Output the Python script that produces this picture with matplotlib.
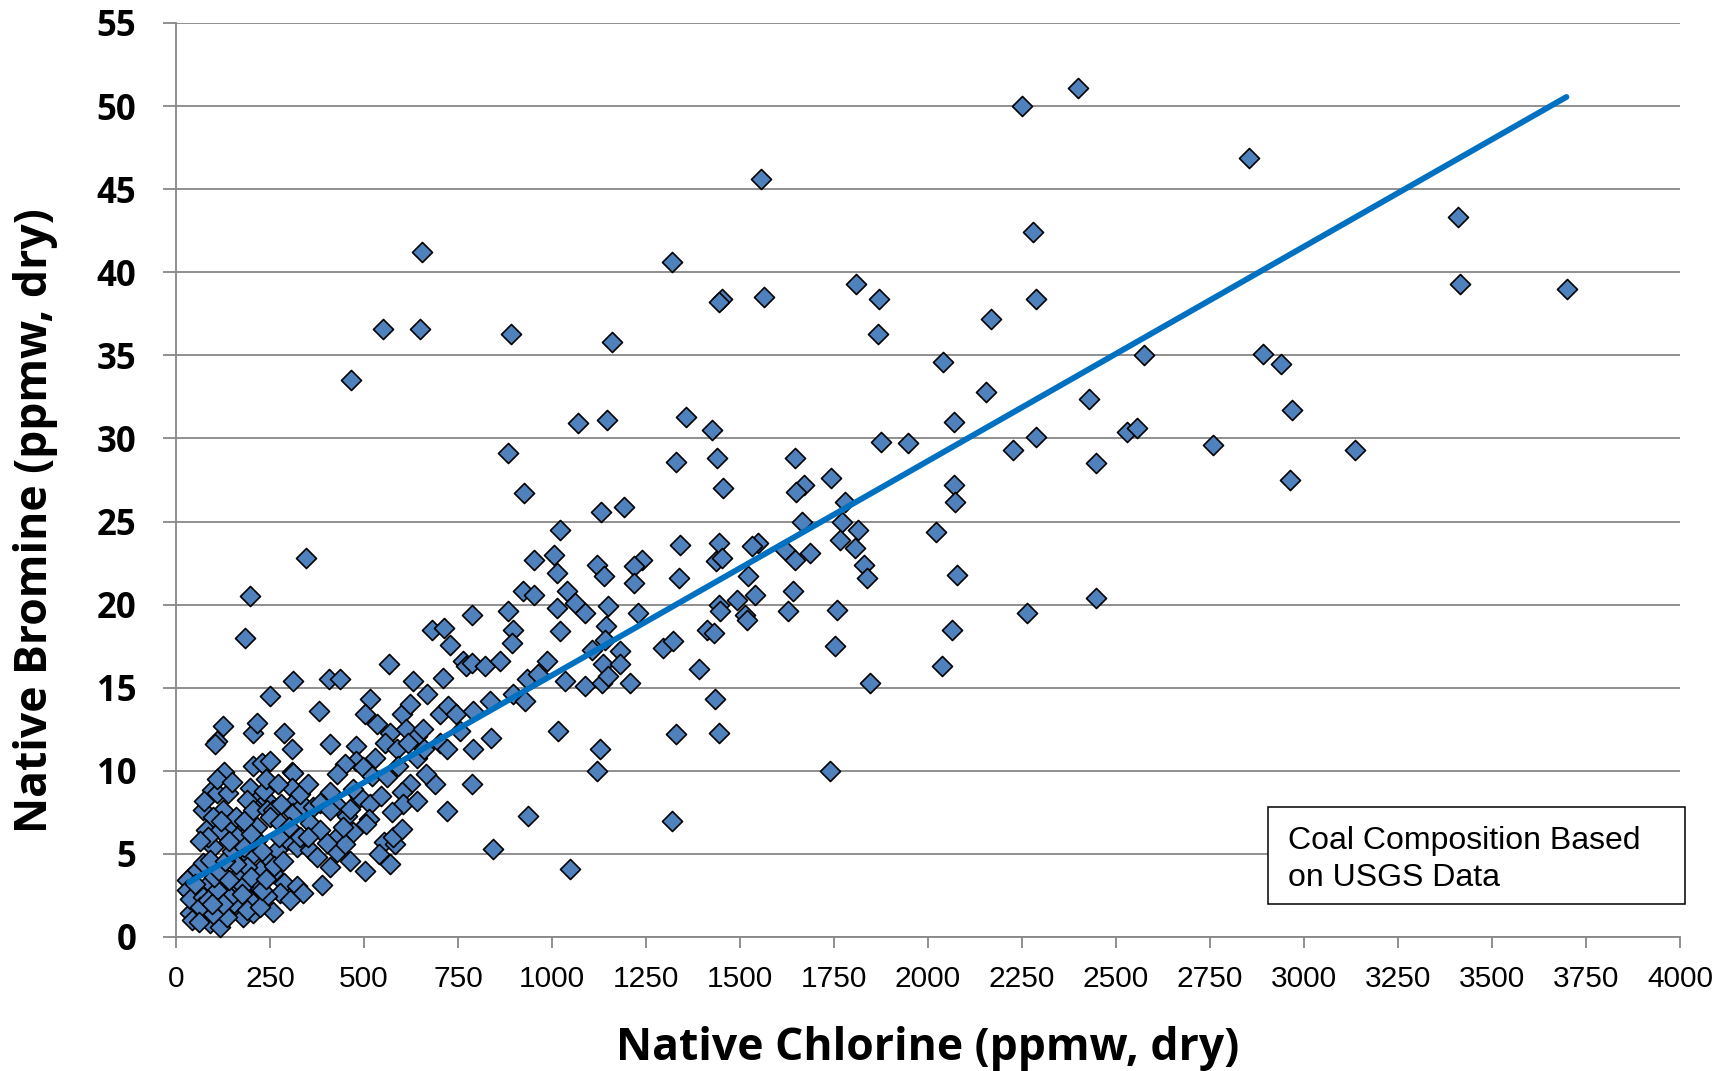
import matplotlib
matplotlib.use("Agg")
import matplotlib.pyplot as plt
from matplotlib import font_manager
from matplotlib.patches import Rectangle

# sparse points: high bromine or high chlorine (Cl, Br in ppmw dry)
cl_high = [2400, 2250, 2855, 1555, 3410, 2280, 655, 1320, 3415, 1808, 3700, 1565, 2287, 1452,
           1444, 1870, 2168, 550, 650, 890, 1866, 1160, 2892, 2574, 2040, 2940, 466, 2153,
           2429, 2968, 1357, 1145, 1070, 2070, 1425, 2530, 2556, 2286, 1874, 1948, 2759, 2226,
           3136, 884, 1330, 1646, 1438, 2448, 1741, 2963, 1671, 2068, 1454, 1648, 926, 2072,
           1778, 1191, 1129, 1772, 1666, 1022, 1814, 2021]
br_high = [51.1, 50.0, 46.9, 45.6, 43.3, 42.4, 41.2, 40.6, 39.3, 39.3, 39.0, 38.5, 38.4, 38.4,
           38.2, 38.4, 37.2, 36.6, 36.6, 36.3, 36.3, 35.8, 35.1, 35.0, 34.6, 34.5, 33.5, 32.8,
           32.4, 31.7, 31.3, 31.1, 30.9, 31.0, 30.5, 30.4, 30.6, 30.1, 29.8, 29.7, 29.6, 29.3,
           29.3, 29.1, 28.6, 28.8, 28.8, 28.5, 27.6, 27.5, 27.2, 27.2, 27.0, 26.8, 26.7, 26.2,
           26.2, 25.9, 25.6, 25.0, 25.0, 24.5, 24.5, 24.4]

# middle band
cl_mid = [1765, 1806, 1547, 1532, 1443, 1341, 1620, 1687, 1646, 1437, 1452, 1239, 1217, 1119,
          1004, 951, 1013, 1137, 1217, 1337, 1522, 1830, 1838, 2078, 924, 951, 1039, 1061,
          1088, 1013, 1150, 1230, 1143, 1443, 1447, 1492, 1540, 1512, 1518, 1628, 1640, 1757,
          2448, 2263, 884, 787, 897, 893, 1022, 1106, 1181, 1141, 1296, 1323, 1412, 1432,
          1752, 2063, 2037, 680, 713, 729, 764, 772, 787, 822, 862, 986, 1135, 1181,
          1392, 567, 933, 964, 1035, 1088, 1132, 1150, 1207, 1846, 631, 709, 897, 928,
          1433, 835, 310, 250, 407, 437, 379, 667, 345, 197, 184, 1017, 1128, 1119,
          1330, 1445, 1320, 1740, 1048, 126, 108, 104, 206, 215, 287, 308]
br_mid = [23.9, 23.4, 23.7, 23.5, 23.7, 23.6, 23.3, 23.1, 22.7, 22.6, 22.8, 22.7, 22.3, 22.4,
          23.0, 22.7, 21.9, 21.7, 21.3, 21.6, 21.7, 22.4, 21.6, 21.8, 20.8, 20.6, 20.8, 20.1,
          19.5, 19.8, 19.9, 19.5, 18.7, 20.0, 19.6, 20.3, 20.6, 19.4, 19.1, 19.6, 20.8, 19.7,
          20.4, 19.5, 19.6, 19.4, 18.5, 17.7, 18.4, 17.3, 17.2, 17.9, 17.4, 17.8, 18.5, 18.3,
          17.5, 18.5, 16.3, 18.5, 18.6, 17.6, 16.6, 16.3, 16.5, 16.3, 16.6, 16.6, 16.4, 16.4,
          16.1, 16.4, 15.5, 15.8, 15.4, 15.1, 15.3, 15.7, 15.3, 15.3, 15.4, 15.6, 14.6, 14.2,
          14.3, 14.2, 15.4, 14.5, 15.5, 15.5, 13.6, 14.6, 22.8, 20.5, 18.0, 12.4, 11.3, 10.0,
          12.2, 12.3, 7.0, 10.0, 4.1, 12.7, 11.8, 11.6, 12.3, 12.9, 12.3, 11.3]

# dense cluster, chlorine 400-1000
cl_low = [516, 503, 534, 600, 622, 702, 724, 746, 791, 569, 556, 587, 613, 640,
          657, 640, 618, 702, 720, 755, 791, 839, 410, 480, 480, 498, 449, 427,
          521, 561, 622, 600, 604, 689, 786, 720, 937, 844, 489, 516, 512, 472,
          427, 427, 463, 503, 569, 552, 583, 578, 410, 432, 454, 410, 463,
          530, 590, 660, 545, 575, 640, 665, 505, 540, 450, 470, 600]
br_low = [14.3, 13.4, 12.8, 13.4, 14.0, 13.4, 13.9, 13.4, 13.6, 12.3, 11.7, 11.3, 12.5, 12.1,
          12.5, 10.8, 11.7, 11.7, 11.3, 12.4, 11.3, 12.0, 11.6, 11.5, 10.6, 10.2, 10.4, 9.8,
          9.7, 9.6, 9.2, 8.7, 8.0, 9.2, 9.2, 7.6, 7.3, 5.3, 8.4, 8.0, 7.1, 6.3,
          6.0, 5.1, 4.6, 4.0, 4.4, 5.7, 5.6, 6.0, 4.2, 7.9, 7.3, 8.7, 7.7,
          10.8, 10.3, 11.3, 8.5, 7.5, 8.2, 9.8, 6.8, 5.0, 5.6, 8.9, 6.5]

# dense cluster, chlorine below 450
cl_base = [128, 206, 229, 250, 308, 312, 95, 108, 139, 197, 223, 241, 308, 312,
           73, 126, 99, 81, 117, 153, 161, 99, 188, 206, 241, 259, 215, 250,
           277, 312, 339, 365, 383, 410, 357, 383, 445, 294, 321, 357, 374, 401,
           387, 250, 268, 215, 197, 223, 259, 286, 277, 241, 321, 339, 303, 259,
           37, 55, 73, 90, 37, 55, 37, 73, 90, 117, 108, 135, 153, 170,
           188, 161, 179, 206, 135, 153, 197, 215, 179, 117, 81, 55,
           30, 28, 37, 42, 73, 99, 144, 188, 223, 108,
           50, 65, 85, 100, 115, 125, 140, 160, 175, 200, 230, 240, 260, 285,
           60, 95, 130, 150, 180, 230, 275, 300, 330, 350, 160, 180, 235, 280,
           330, 350, 85, 65, 75, 110, 150, 240, 270, 140, 120, 200]
br_base = [9.95, 10.3, 10.45, 10.6, 9.9, 9.85, 8.85, 8.64, 8.64, 8.94, 8.44, 8.24, 8.94, 8.04,
           7.64, 7.64, 7.24, 6.44, 6.44, 6.64, 6.04, 5.44, 8.24, 7.64, 7.64, 7.64, 6.64, 7.24,
           6.84, 7.44, 7.94, 7.84, 8.04, 7.64, 6.84, 6.44, 6.64, 5.84, 5.44, 5.24, 4.84, 5.64,
           3.14, 4.64, 5.24, 5.84, 4.84, 4.04, 3.84, 3.24, 2.64, 2.44, 3.04, 2.64, 2.24, 1.5,
           3.64, 4.04, 4.44, 4.64, 2.64, 2.04, 1.42, 1.22, 0.82, 0.6, 1.84, 2.64, 3.24, 3.84,
           4.24, 1.84, 1.22, 1.42, 1.22, 2.04, 2.24, 3.04, 3.04, 3.04, 3.04, 2.84,
           3.4, 2.8, 2.3, 1.0, 2.4, 1.4, 2.4, 1.6, 1.8, 2.8,
           3.2, 1.8, 2.2, 3.6, 4.0, 2.0, 3.4, 4.4, 2.6, 3.6, 2.8, 3.5, 4.3, 4.6,
           0.9, 2.0, 4.6, 5.2, 5.4, 5.2, 6.0, 6.6, 6.0, 6.0, 7.2, 7.0, 8.8, 8.0,
           8.6, 9.2, 6.0, 5.8, 8.2, 9.5, 9.3, 9.5, 9.2, 5.8, 7.0, 6.2]

# linear trendline end points
trend_cl = [35, 3698]
trend_br = [3.3, 50.55]

x_ticks = list(range(0, 4001, 250))
y_ticks = list(range(0, 56, 5))

cl_all = cl_high + cl_mid + cl_low + cl_base
br_all = br_high + br_mid + br_low + br_base

names = {f.name for f in font_manager.fontManager.ttflist}
narrow = "Liberation Sans Narrow" if "Liberation Sans Narrow" in names else "Liberation Sans"
narrow_size = 25 if narrow == "Liberation Sans Narrow" else 21.5
bold_font = ["Open Sans", "DejaVu Sans"]

W, H = 1727, 1071
fig = plt.figure(figsize=(W / 100, H / 100), dpi=100)
ax = fig.add_axes([176 / W, 1 - 937 / H, (1680 - 176) / W, (937 - 23) / H])

grid_col = "#878787"
ax.scatter(cl_all, br_all, marker="D", s=104, facecolor="#4F81BD",
           edgecolor="black", linewidth=1.2, zorder=3, clip_on=False)
ax.plot(trend_cl, trend_br, color="#0070C0", lw=4.2, solid_capstyle="round", zorder=4)

ax.set_xlim(0, 4000)
ax.set_ylim(0, 55)
ax.set_xticks(x_ticks)
ax.set_yticks(y_ticks)
ax.yaxis.grid(True, color=grid_col, lw=1.3)
ax.set_axisbelow(True)
for s in ["top", "right"]:
    ax.spines[s].set_visible(False)
for s in ["left", "bottom"]:
    ax.spines[s].set_color(grid_col)
    ax.spines[s].set_linewidth(1.3)

ax.tick_params(axis="y", length=9.4, width=1.3, color=grid_col, pad=19)
ax.tick_params(axis="x", length=8, width=1.3, color=grid_col, pad=12)
for lab in ax.get_yticklabels():
    lab.set_family(bold_font)
    lab.set_fontweight("bold")
    lab.set_fontsize(25)
for lab in ax.get_xticklabels():
    lab.set_family([narrow, "DejaVu Sans"])
    lab.set_fontsize(narrow_size)

fig.text(928 / W, 1 - 1060 / H, "Native Chlorine (ppmw, dry)", ha="center", va="baseline",
         fontsize=32, fontweight="bold", family=bold_font)
fig.text(36 / W, 1 - 521 / H, "Native Bromine (ppmw, dry)", ha="center", va="center",
         rotation=90, fontsize=32, fontweight="bold", family=bold_font)

# annotation box
fig.add_artist(Rectangle((1268 / W, 1 - 904 / H), (1685 - 1268) / W, (904 - 807) / H,
                         transform=fig.transFigure, facecolor="white",
                         edgecolor="black", lw=1.1, zorder=5))
fig.text(1288 / W, 1 - 849 / H, "Coal Composition Based", va="baseline", fontsize=23,
         family=["Liberation Sans", "DejaVu Sans"], zorder=6)
fig.text(1288 / W, 1 - 886 / H, "on USGS Data", va="baseline", fontsize=23,
         family=["Liberation Sans", "DejaVu Sans"], zorder=6)

fig.savefig("out.png", dpi=100, facecolor="white")
